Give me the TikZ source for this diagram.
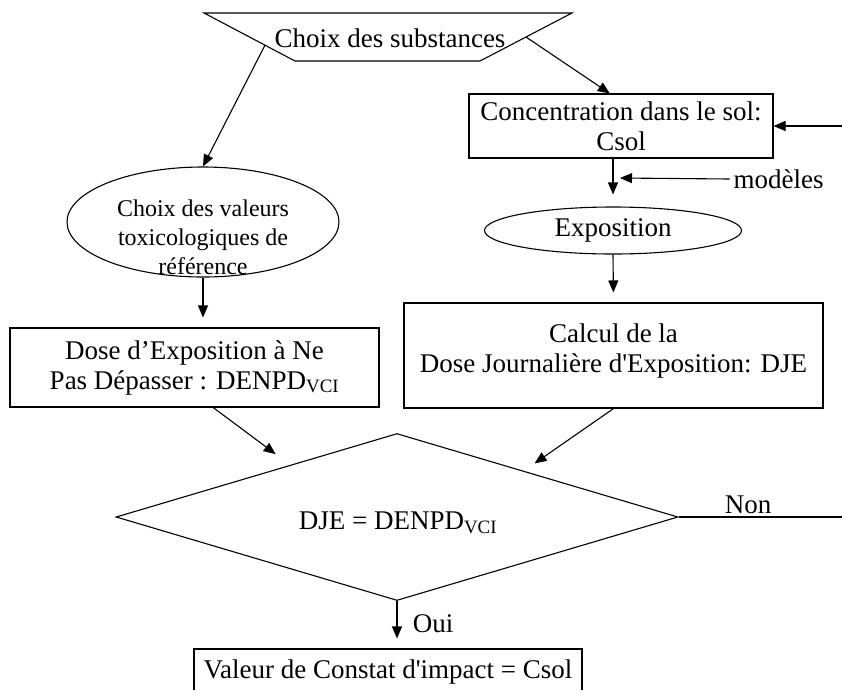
\documentclass[tikz,border=0pt]{standalone}
\usepackage{fontspec}
\newfontfamily\diafont{Liberation Serif}
\usetikzlibrary{shapes.geometric,arrows.meta,calc}
\begin{document}
\begin{tikzpicture}[x=1pt,y=-1pt, line width=1.1pt,
  every node/.style={font=\diafont\fontsize{27}{30}\selectfont},
  arr/.style={-{Triangle[length=12pt,width=10pt]}},
  box/.style={draw, rectangle, inner sep=0pt, align=center},
  oval/.style={draw, ellipse, inner sep=0pt, align=center},
  plain/.style={inner sep=0pt, align=center},
  small/.style={font=\diafont\fontsize{24}{29}\selectfont}]
\useasboundingbox (0,0) rectangle (842,689);
% top trapezoid
\coordinate (tl) at (204,13);
\coordinate (tr) at (572,13);
\coordinate (br) at (480,61);
\coordinate (bl) at (295,61);
\draw (tl) -- (tr) -- (br) -- (bl) -- cycle;
\node[plain] (choix) at (390,38) {Choix des substances};
\coordinate (sl) at ($(tl)!0.67!(bl)$);
\coordinate (sr) at ($(tr)!0.5!(br)$);
% right column
\node[box, minimum width=304pt, minimum height=64pt] (csol) at (621,126) {Concentration dans le sol:\\Csol};
\coordinate (inr) at (842,126);
\node (mod) at (778.5,179) {modèles};
\coordinate (modtip) at (620,178);
\node[oval, minimum width=257pt, minimum height=47pt] (expo) at (613,230.5) {Exposition};
\node[box, minimum width=419pt, minimum height=105pt] (calc) at (613.5,355.5) {};
\node[plain] (calct) at (613.5,351) {Calcul de la\\Dose Journalière d'Exposition: DJE};
% left column
\node[oval, minimum width=272pt, minimum height=110pt] (val) at (203,222) {};
\node[plain, small] (valt) at (203,237) {Choix des valeurs\\toxicologiques de\\référence};
\node[box, minimum width=369pt, minimum height=79pt] (dose) at (194.5,367.5) {Dose d’Exposition à Ne\\Pas Dépasser : DENPD\textsubscript{VCI}};
% decision
\node[draw, diamond, minimum width=562pt, minimum height=167pt, inner sep=0pt] (dj) at (397,517) {};
\node[plain] (djt) at (398,523) {DJE = DENPD\textsubscript{VCI}};
\coordinate (nonend) at (842,517);
\node (non) at (748,505) {Non};
\node (oui) at (433,624) {Oui};
\node[box, minimum width=388pt, minimum height=46pt] (fin) at (388,672) {Valeur de Constat d'impact = Csol};
% connectors
\draw[arr] (sl) -- (val.north);
\draw[arr] (sr) -- (csol.109);
\draw[arr] (inr) -- (csol.east);
\draw[arr, shorten >=12pt] (csol.south -| expo.north) -- (expo.north);
\draw[arr] (mod.west) -- (modtip);
\draw[arr, shorten >=10pt] (expo.south) -- (calc.north);
\draw[arr, shorten >=10pt] (val.south) -- (val.south |- dose.north);
\draw[arr, shorten >=18pt] (dose.-65) -- (dj.154.8);
\draw[arr, shorten >=13pt] (calc.south) -- (dj.20.4);
\draw (dj.east) -- (nonend);
\draw[arr, shorten >=10pt] (dj.south) -- (dj.south |- fin.north);
\end{tikzpicture}
\end{document}
